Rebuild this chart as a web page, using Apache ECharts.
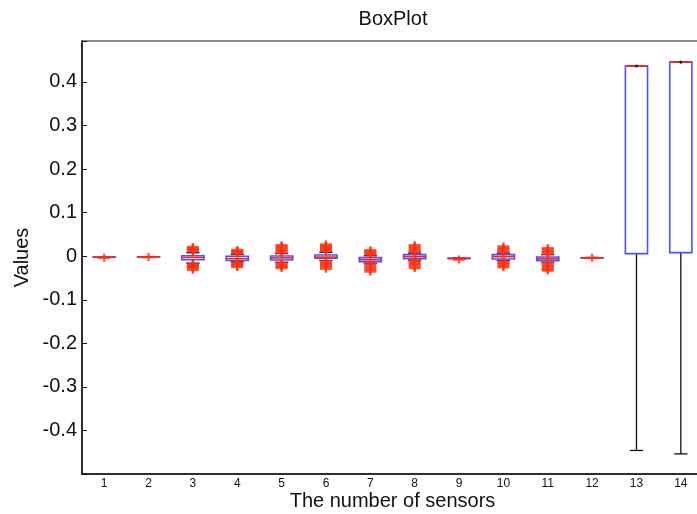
<!DOCTYPE html>
<html>
<head>
<meta charset="utf-8">
<script src="https://cdn.jsdelivr.net/npm/echarts@6/dist/echarts.min.js"></script>
<style>html,body{margin:0;padding:0;background:#fff;overflow:hidden}#c{width:697px;height:514px}</style>
</head>
<body>
<div id="c"></div>
<script>
// ---- data ----
const categories = ['1','2','3','4','5','6','7','8','9','10','11','12','13','14'];
// [lower whisker, Q1, median, Q3, upper whisker]
const boxStats = [
  [-0.003, -0.002, -0.002, -0.002, -0.001],
  [-0.002, -0.0015, -0.0015, -0.0015, -0.001],
  [-0.016, -0.008, -0.003, 0.001, 0.008],
  [-0.013, -0.010, -0.0055, 0.000, 0.004],
  [-0.014, -0.0087, -0.004, 0.0005, 0.006],
  [-0.010, -0.0048, -0.002, 0.0028, 0.009],
  [-0.016, -0.0124, -0.008, -0.0032, 0.001],
  [-0.009, -0.0055, -0.001, 0.0037, 0.007],
  [-0.006, -0.0055, -0.005, -0.0045, -0.004],
  [-0.010, -0.0064, -0.001, 0.0037, 0.007],
  [-0.014, -0.0101, -0.006, -0.0018, 0.0035],
  [-0.004, -0.004, -0.004, -0.004, -0.0035],
  [-0.446, 0.006, 0.4366, 0.4366, 0.4366],
  [-0.4538, 0.0083, 0.4457, 0.4457, 0.4457]
];
const outliersUpper = [
  [],
  [],
  [0.011, 0.0135, 0.016, 0.0185, 0.021],
  [0.006, 0.008, 0.010, 0.012, 0.0145],
  [0.008, 0.011, 0.014, 0.017, 0.020, 0.0225, 0.025],
  [0.011, 0.014, 0.017, 0.020, 0.0235, 0.027],
  [0.0035, 0.006, 0.0085, 0.011, 0.0135],
  [0.009, 0.012, 0.015, 0.018, 0.0215, 0.025],
  [],
  [0.009, 0.0125, 0.016, 0.019, 0.0225],
  [0.0055, 0.009, 0.012, 0.0155, 0.0185],
  [],
  [],
  []
];
const outliersLower = [
  [-0.0035],
  [-0.002],
  [-0.018, -0.0205, -0.023, -0.0255, -0.028, -0.031],
  [-0.015, -0.0175, -0.020, -0.0225, -0.025],
  [-0.016, -0.019, -0.022, -0.0245, -0.027],
  [-0.0115, -0.015, -0.018, -0.021, -0.0245, -0.029],
  [-0.0175, -0.021, -0.0245, -0.028, -0.0315, -0.035],
  [-0.011, -0.014, -0.017, -0.020, -0.0235, -0.027],
  [-0.0075],
  [-0.012, -0.015, -0.0185, -0.022, -0.0255],
  [-0.016, -0.0195, -0.023, -0.0265, -0.030, -0.033],
  [-0.0037],
  [],
  []
];
const yTicks = ['-0.4','-0.3','-0.2','-0.1','0','0.1','0.2','0.3','0.4'];

// ---- build ----
const boxData = boxStats.map((s, i) => [i].concat(s));
const outlierData = [];
outliersUpper.forEach((arr, i) => arr.forEach(v => outlierData.push([i, v])));
outliersLower.forEach((arr, i) => arr.forEach(v => outlierData.push([i, v])));

function renderBox(params, api) {
  const i = api.value(0);
  const lo = api.coord([i, api.value(1)]);
  const q1 = api.coord([i, api.value(2)]);
  const md = api.coord([i, api.value(3)]);
  const q3 = api.coord([i, api.value(4)]);
  const hi = api.coord([i, api.value(5)]);
  const band = api.size([1, 0])[0];
  const bw = band * 0.5;
  const cw = band * 0.3;
  const x = lo[0];
  const black = {stroke: '#111', lineWidth: 1.3};
  const children = [
    {type: 'line', shape: {x1: x, y1: q1[1], x2: x, y2: lo[1]}, style: black},
    {type: 'line', shape: {x1: x, y1: q3[1], x2: x, y2: hi[1]}, style: black},
    {type: 'line', shape: {x1: x - cw / 2, y1: lo[1], x2: x + cw / 2, y2: lo[1]}, style: black},
    {type: 'line', shape: {x1: x - cw / 2, y1: hi[1], x2: x + cw / 2, y2: hi[1]}, style: black},
    {type: 'rect', shape: {x: x - bw / 2, y: q3[1], width: bw, height: Math.max(q1[1] - q3[1], 0.01)},
      style: {fill: 'none', stroke: '#5050ff', lineWidth: 1.6}},
    {type: 'line', shape: {x1: x - bw / 2, y1: md[1], x2: x + bw / 2, y2: md[1]},
      style: {stroke: '#ff2010', lineWidth: 1.6}}
  ];
  if (api.value(5) > 0.1) {
    children.push({type: 'circle', shape: {cx: x, cy: hi[1], r: 1.6}, style: {fill: '#222'}});
  }
  return {type: 'group', children: children};
}

const chart = echarts.init(document.getElementById('c'), null, {renderer: 'canvas'});
chart.setOption({
  animation: false,
  backgroundColor: '#fff',
  textStyle: {fontFamily: 'Liberation Sans, Arial, sans-serif'},
  title: {
    text: 'BoxPlot', left: 388, top: 4, textAlign: 'center',
    textStyle: {fontSize: 20, fontWeight: 'normal', color: '#111', fontFamily: 'Liberation Sans'}
  },
  grid: {left: 82, width: 621, top: 41, bottom: 40, outerBoundsMode: 'none', containLabel: false,
    show: true, borderColor: '#666', borderWidth: 1.5, backgroundColor: '#fff'},
  xAxis: {
    type: 'category', data: categories, boundaryGap: true,
    axisLine: {onZero: false, lineStyle: {color: '#111', width: 1.5}},
    axisTick: {show: false},
    axisLabel: {fontSize: 12, color: '#111', margin: 4, fontFamily: 'Liberation Sans'},
    name: 'The number of sensors', nameLocation: 'middle', nameGap: 17, nameMoveOverlap: false,
    nameTextStyle: {fontSize: 20, color: '#111', fontFamily: 'Liberation Sans'}
  },
  yAxis: {
    type: 'value', min: -0.5, max: 0.494, interval: 0.1,
    axisLine: {show: true, onZero: false, lineStyle: {color: '#111', width: 1.5}},
    axisTick: {show: true, inside: true, length: 5, lineStyle: {color: '#111'}},
    splitLine: {show: false},
    axisLabel: {
      fontSize: 20, color: '#111', margin: 5, fontFamily: 'Liberation Sans',
      formatter: function (v) {
        const r = Math.round(v * 10) / 10;
        if (Math.abs(v - r) > 1e-6 || Math.abs(r) > 0.45) return '';
        const s = r === 0 ? '0' : String(r);
        return yTicks.indexOf(s) >= 0 ? s : '';
      }
    },
    name: 'Values', nameLocation: 'middle', nameGap: 50, nameRotate: 90, nameMoveOverlap: false,
    nameTextStyle: {fontSize: 20, color: '#111', fontFamily: 'Liberation Sans'}
  },
  series: [
    {type: 'custom', renderItem: renderBox, data: boxData, encode: {x: 0, y: [1, 2, 3, 4, 5]}, z: 2, clip: false},
    {
      type: 'scatter', data: outlierData, z: 3,
      symbol: 'path://M4,0H6V3.5H10V6.5H6V10H4V6.5H0V3.5H4Z', symbolSize: [12, 8],
      itemStyle: {color: '#ff3010'}
    }
  ]
});
</script>
</body>
</html>
